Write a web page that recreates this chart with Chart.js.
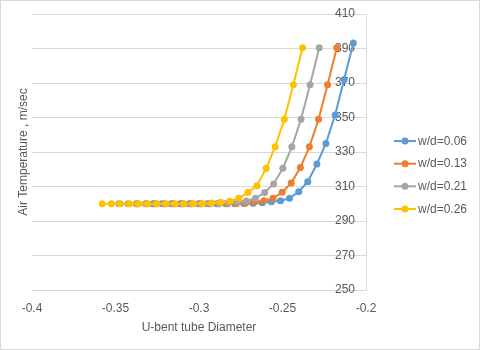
<!DOCTYPE html>
<html>
<head>
<meta charset="utf-8">
<script src="https://cdn.jsdelivr.net/npm/chart.js@4"></script>
<style>
html,body{margin:0;padding:0;background:#fff;}
#wrap{width:480px;height:350px;position:relative;}
</style>
</head>
<body>
<div id="wrap"><canvas id="c"></canvas></div>
<script>
const seriesNames = ['w/d=0.06', 'w/d=0.13', 'w/d=0.21', 'w/d=0.26'];
const seriesColors = ['#5B9BD5', '#ED7D31', '#A5A5A5', '#FFC000'];

const xBlue = [-0.3276,-0.3221,-0.3167,-0.3112,-0.3058,-0.3003,-0.2949,-0.2894,-0.2840,-0.2785,-0.2731,-0.2676,-0.2621,-0.2567,-0.2512,-0.2458,-0.2403,-0.2349,-0.2294,-0.2240,-0.2185,-0.2131,-0.2076];
const yBlue = [300,300,300,300,300,300,300,300,300,300,300.1,300.3,300.6,301.2,301.8,303.2,307,312.8,323,335,351.4,372,393.2];

const xOrange = [-0.3375,-0.3320,-0.3266,-0.3211,-0.3157,-0.3102,-0.3048,-0.2993,-0.2939,-0.2884,-0.2830,-0.2775,-0.2720,-0.2666,-0.2611,-0.2557,-0.2502,-0.2448,-0.2393,-0.2339,-0.2284,-0.2230,-0.2175];
const yOrange = [300,300,300,300,300,300,300,300,300,300,300,300.2,300.5,301,301.8,303.2,306.6,312,321,333,349,369,390.5];

const xGray = [-0.3480,-0.3425,-0.3371,-0.3316,-0.3262,-0.3207,-0.3153,-0.3098,-0.3044,-0.2989,-0.2935,-0.2880,-0.2825,-0.2771,-0.2716,-0.2662,-0.2607,-0.2553,-0.2498,-0.2444,-0.2389,-0.2335,-0.2280];
const yGray = [300,300,300,300,300,300,300,300,300,300,300,300.2,300.5,300.9,301.6,303.2,306.5,311.5,320.6,333,349,369,390.5];

const xYellow = [-0.3580,-0.3525,-0.3471,-0.3416,-0.3362,-0.3307,-0.3253,-0.3198,-0.3144,-0.3089,-0.3035,-0.2980,-0.2925,-0.2871,-0.2816,-0.2762,-0.2707,-0.2653,-0.2598,-0.2544,-0.2489,-0.2435,-0.2380];
const yYellow = [300,300,300,300,300,300,300,300,300,300,300,300.2,300.5,300.8,301.5,303.2,306.5,310.5,320.5,333,349,369,390.5];

const xTicks = [-0.4, -0.35, -0.3, -0.25, -0.2];
const yTicks = [250, 270, 290, 310, 330, 350, 370, 390, 410];

const xs = [xBlue, xOrange, xGray, xYellow];
const ys = [yBlue, yOrange, yGray, yYellow];

const FONT = 'Liberation Sans';
const TXT = '#595959';
const GRID = '#d9d9d9';

const datasets = seriesNames.map((name, i) => ({
  label: name,
  data: xs[i].map((x, k) => ({x: x, y: ys[i][k]})),
  borderColor: seriesColors[i],
  backgroundColor: seriesColors[i],
  borderWidth: 2,
  pointRadius: 3.5,
  pointBorderWidth: 0,
  pointBackgroundColor: seriesColors[i],
  tension: 0,
  showLine: true,
  order: seriesNames.length - i
}));

const framePlugin = {
  id: 'frame',
  beforeDraw(chart) {
    const ctx = chart.ctx;
    ctx.save();
    ctx.fillStyle = '#fff';
    ctx.fillRect(0, 0, chart.width, chart.height);
    ctx.restore();
  },
  afterDraw(chart) {
    const ctx = chart.ctx;
    ctx.save();
    ctx.strokeStyle = '#d9d9d9';
    ctx.lineWidth = 1;
    ctx.strokeRect(0.5, 0.5, chart.width - 1, chart.height - 1);
    // legend
    ctx.font = '12px "' + FONT + '"';
    ctx.textAlign = 'left';
    ctx.textBaseline = 'middle';
    chart.data.datasets.forEach((ds, i) => {
      const y = 141 + i * 22.67;
      ctx.strokeStyle = ds.borderColor;
      ctx.lineWidth = 2;
      ctx.beginPath();
      ctx.moveTo(394, y);
      ctx.lineTo(416, y);
      ctx.stroke();
      ctx.fillStyle = ds.borderColor;
      ctx.beginPath();
      ctx.arc(405, y, 3.5, 0, Math.PI * 2);
      ctx.fill();
      ctx.fillStyle = TXT;
      ctx.fillText(ds.label, 418, y + 0.5);
    });
    ctx.restore();
  }
};

new Chart(document.getElementById('c'), {
  type: 'scatter',
  data: {datasets: datasets},
  options: {
    responsive: true,
    maintainAspectRatio: false,
    animation: false,
    layout: {padding: {top: 14, left: 0, right: 0, bottom: 0}},
    plugins: {legend: {display: false}, tooltip: {enabled: false}},
    scales: {
      x: {
        type: 'linear',
        position: 'bottom',
        min: xTicks[0],
        max: xTicks[xTicks.length - 1],
        afterBuildTicks(scale) { scale.ticks = xTicks.map(v => ({value: v})); },
        afterFit(scale) { scale.height = 60; },
        grid: {display: false, drawTicks: false},
        border: {display: false},
        ticks: {
          color: TXT,
          font: {family: FONT, size: 12},
          padding: 11,
          maxRotation: 0,
          callback: v => String(v)
        },
        title: {
          display: true,
          text: 'U-bent tube Diameter',
          color: TXT,
          font: {family: FONT, size: 12},
          padding: {top: 0, bottom: 15}
        }
      },
      yTitle: {
        type: 'linear',
        position: 'left',
        min: yTicks[0],
        max: yTicks[yTicks.length - 1],
        afterFit(scale) { scale.width = 32; },
        grid: {display: false, drawTicks: false},
        border: {display: false},
        ticks: {display: false},
        title: {
          display: true,
          text: 'Air Temperature , m/sec',
          color: TXT,
          font: {family: FONT, size: 12},
          padding: {top: 16, bottom: 0}
        }
      },
      y: {
        type: 'linear',
        position: 'right',
        min: yTicks[0],
        max: yTicks[yTicks.length - 1],
        afterBuildTicks(scale) { scale.ticks = yTicks.map(v => ({value: v})); },
        afterFit(scale) { scale.width = 114; },
        grid: {color: GRID, lineWidth: 1, drawTicks: false},
        border: {display: true, color: GRID, width: 1},
        ticks: {
          mirror: true,
          padding: -11,
          color: TXT,
          font: {family: FONT, size: 12}
        }
      }
    }
  },
  plugins: [framePlugin]
});
</script>
</body>
</html>
